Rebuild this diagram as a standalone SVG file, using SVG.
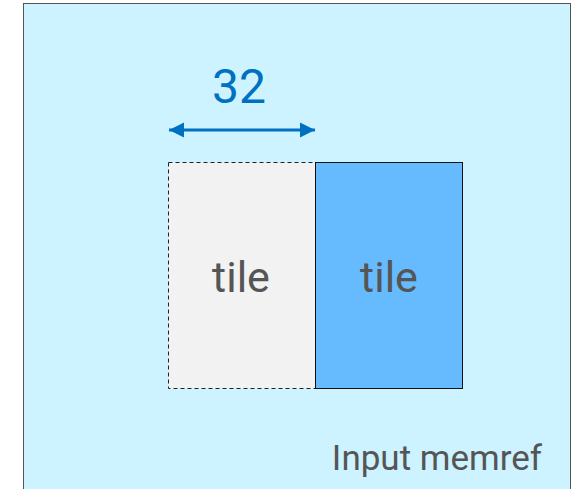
<svg xmlns="http://www.w3.org/2000/svg" width="580" height="489" viewBox="0 0 580 489">
  <style>
    .lbl { font-family: "Roboto", "Liberation Sans", sans-serif; fill: #555555; }
    .dim { font-family: "Roboto", "Liberation Sans", sans-serif; fill: #0070C0; }
  </style>
  <defs>
    <marker id="ah" viewBox="0 0 10 10" refX="10" refY="5" markerWidth="5" markerHeight="5.4" orient="auto-start-reverse" markerUnits="strokeWidth">
      <path d="M0,0 L10,5 L0,10 z" fill="#0070C0"/>
    </marker>
  </defs>
  <rect width="580" height="489" fill="#ffffff"/>
  <g id="memref">
    <rect x="23.5" y="3.5" width="547" height="500" fill="#CCF3FF" stroke="#555555" stroke-width="1"/>
    <text class="lbl" x="542" y="470" font-size="35" text-anchor="end">Input memref</text>
  </g>
  <g id="tile-prev">
    <rect x="168.5" y="162.5" width="147" height="226" fill="#F2F2F2" stroke="#222222" stroke-width="1" stroke-dasharray="4,3"/>
    <text class="lbl" x="241" y="292" font-size="43" text-anchor="middle">tile</text>
  </g>
  <g id="tile-cur">
    <rect x="315.5" y="162.5" width="147" height="226" fill="#66BBFF" stroke="#111111" stroke-width="1"/>
    <text class="lbl" x="389" y="292" font-size="43" text-anchor="middle">tile</text>
  </g>
  <g id="connectors">
    <line x1="169" y1="130" x2="315" y2="130" stroke="#0070C0" stroke-width="3" marker-start="url(#ah)" marker-end="url(#ah)"/>
    <text class="dim" x="239" y="103" font-size="48" text-anchor="middle">32</text>
  </g>
</svg>
